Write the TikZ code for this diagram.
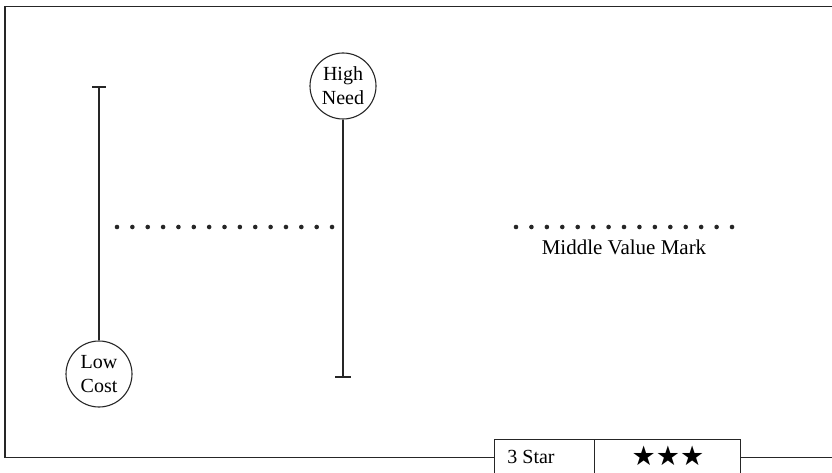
\documentclass[tikz,border=0pt]{standalone}
\usepackage{fontspec}
\setmainfont{Liberation Serif}
\newfontfamily\symfont{DejaVu Sans}
\begin{document}
\begin{tikzpicture}[x=1pt,y=-1pt,
  frameline/.style={draw=black!85, line width=1.2pt},
  barline/.style={draw=black!85, line width=1.1pt},
  bubble/.style={circle, draw=black!85, line width=1.1pt, minimum size=66pt, inner sep=0pt, align=center, font=\fontsize{20}{24}\selectfont},
  dotmark/.style={circle, fill=black!85, inner sep=0pt, minimum size=4.6pt},
  cell/.style={draw=black!85, line width=1.1pt, fill=white, minimum height=38pt, anchor=north west, inner sep=0pt}
]
\useasboundingbox (0,0) rectangle (832,473);
% frame
\draw[frameline] (832,6.5) -- (5,6.5) -- (5,457.5) -- (832,457.5);
% low cost bar
\node[bubble] (low) at (99,374) {Low\\Cost};
\coordinate (lowtop) at (99,87);
\draw[barline] (low.north) -- (lowtop);
\draw[barline] ([xshift=-7pt]lowtop) -- ([xshift=7pt]lowtop);
% high need bar
\node[bubble] (high) at (343,86) {High\\Need};
\coordinate (highbot) at (343,377);
\draw[barline] (high.south) -- (highbot);
\draw[barline] ([xshift=-8pt]highbot) -- ([xshift=8pt]highbot);
% dot rows
\foreach \i in {0,...,14} {
  \node[dotmark] (da\i) at ({117+\i*15.36},227) {};
  \node[dotmark] (db\i) at ({516+\i*15.43},227) {};
}
\node[font=\fontsize{21}{24}\selectfont, anchor=base] (mvm) at (624,254) {Middle Value Mark};
% rating tag
\node[cell, minimum width=100pt] (star) at (494,439) {};
\node[cell, minimum width=146pt] (stars) at (594,439) {};
\node[font=\fontsize{20}{22}\selectfont, anchor=base] (startxt) at (531,463) {3 Star};
\node[font=\symfont\fontsize{27}{28}\selectfont, anchor=base] (startsym) at (668,465) {★★★};
\end{tikzpicture}
\end{document}
